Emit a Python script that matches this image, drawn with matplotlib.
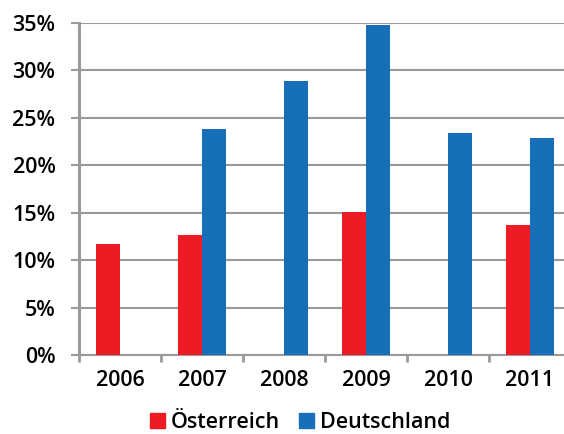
import matplotlib
matplotlib.use("Agg")
import matplotlib.pyplot as plt
import numpy as np
from matplotlib.patches import Patch

years = ["2006", "2007", "2008", "2009", "2010", "2011"]
oesterreich = [11.7, 12.6, 0, 15.1, 0, 13.7]
deutschland = [0, 23.8, 28.9, 34.8, 23.4, 22.9]
yticks = [0, 5, 10, 15, 20, 25, 30, 35]
ytick_labels = ["0%", "5%", "10%", "15%", "20%", "25%", "30%", "35%"]

RED = "#ED1C24"
BLUE = "#166FB8"
GRID = "#9A9A9A"

plt.rcParams['font.family'] = ['Open Sans', 'DejaVu Sans']

fig = plt.figure(figsize=(5.64, 4.34), dpi=100)
ax = fig.add_axes([79/564, 1-355/434, 492/564, 332/434])

x = np.arange(len(years))
w = 0.293
ax.bar(x - w/2, oesterreich, width=w, color=RED, zorder=3)
ax.bar(x + w/2, deutschland, width=w, color=BLUE, zorder=3)

ax.set_xlim(-0.5, 5.5)
ax.set_ylim(0, 35)
ax.set_yticks(yticks)
ax.set_yticklabels(ytick_labels, fontsize=15.5, fontweight='semibold')
ax.yaxis.grid(True, color=GRID, linewidth=1.5, zorder=0)
ax.set_axisbelow(True)

ax.set_xticks(np.arange(-0.5, 6.0, 1.0))
ax.set_xticklabels([])
ax.set_xticks(x, minor=True)
ax.set_xticklabels(years, minor=True, fontsize=15.5, fontweight='semibold')
ax.tick_params(axis='x', which='major', length=5, width=2, color=GRID)
ax.tick_params(axis='x', which='minor', length=0, pad=11)
ax.tick_params(axis='y', length=6, width=1.5, color=GRID, pad=11)

for s in ['top', 'right']:
    ax.spines[s].set_visible(False)
ax.spines['left'].set_color(GRID)
ax.spines['left'].set_linewidth(2.2)
ax.spines['bottom'].set_color(GRID)
ax.spines['bottom'].set_linewidth(1.5)

handles = [Patch(color=RED, label="Österreich"), Patch(color=BLUE, label="Deutschland")]
fig.legend(handles=handles, loc='lower center', bbox_to_anchor=(0.532, -0.042), ncol=2,
           frameon=False, prop={'size': 15.5, 'weight': 'semibold'},
           handlelength=0.7, handleheight=0.7, handletextpad=0.25, columnspacing=0.9)

fig.savefig("out.png", dpi=100)
